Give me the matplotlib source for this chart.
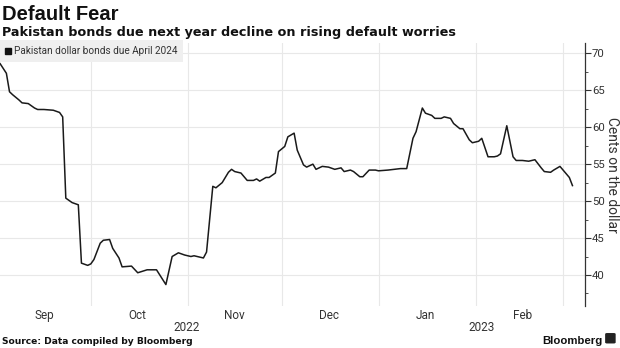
import matplotlib
matplotlib.use("Agg")
import matplotlib.pyplot as plt
import matplotlib.dates as mdates
import matplotlib.transforms as mtransforms
from matplotlib.lines import Line2D
from matplotlib.patches import FancyBboxPatch
import pandas as pd

# Pakistan USD bond due April 2024, price in cents on the dollar
dates = [
    "2022-09-02", "2022-09-04", "2022-09-05", "2022-09-06", "2022-09-08", "2022-09-09",
    "2022-09-11", "2022-09-13", "2022-09-14", "2022-09-16", "2022-09-19", "2022-09-21",
    "2022-09-22", "2022-09-23", "2022-09-25", "2022-09-27", "2022-09-28", "2022-09-30",
    "2022-10-01", "2022-10-02", "2022-10-04", "2022-10-05", "2022-10-07", "2022-10-08",
    "2022-10-10", "2022-10-11", "2022-10-14", "2022-10-16", "2022-10-19", "2022-10-22",
    "2022-10-25", "2022-10-27", "2022-10-29", "2022-10-31", "2022-11-02", "2022-11-03",
    "2022-11-06", "2022-11-07", "2022-11-09", "2022-11-10", "2022-11-12", "2022-11-14",
    "2022-11-15", "2022-11-16", "2022-11-18", "2022-11-20", "2022-11-22", "2022-11-23",
    "2022-11-24", "2022-11-26", "2022-11-27", "2022-11-29", "2022-11-30", "2022-12-02",
    "2022-12-03", "2022-12-05", "2022-12-06", "2022-12-08", "2022-12-09", "2022-12-11",
    "2022-12-12", "2022-12-14", "2022-12-16", "2022-12-18", "2022-12-20", "2022-12-21",
    "2022-12-23", "2022-12-24", "2022-12-26", "2022-12-27", "2022-12-29", "2022-12-31",
    "2023-01-01", "2023-01-04", "2023-01-06", "2023-01-08", "2023-01-10", "2023-01-12",
    "2023-01-13", "2023-01-15", "2023-01-16", "2023-01-18", "2023-01-19", "2023-01-21",
    "2023-01-22", "2023-01-24", "2023-01-25", "2023-01-27", "2023-01-28", "2023-01-30",
    "2023-01-31", "2023-02-02", "2023-02-03", "2023-02-05", "2023-02-07", "2023-02-08",
    "2023-02-09", "2023-02-11", "2023-02-13", "2023-02-14", "2023-02-16", "2023-02-18",
    "2023-02-20", "2023-02-22", "2023-02-23", "2023-02-25", "2023-02-26", "2023-02-28",
    "2023-03-01", "2023-03-03", "2023-03-04",
]
prices = [
    68.6, 67.3, 64.8, 64.4, 63.7, 63.3,
    63.2, 62.6, 62.4, 62.4, 62.3, 62.0,
    61.4, 50.4, 49.8, 49.5, 41.6, 41.3,
    41.5, 42.1, 44.3, 44.7, 44.8, 43.6,
    42.3, 41.1, 41.2, 40.3, 40.7, 40.7,
    38.7, 42.5, 43.0, 42.7, 42.5, 42.6,
    42.3, 43.1, 52.0, 51.8, 52.5, 53.9,
    54.3, 54.0, 53.8, 52.8, 52.8, 53.0,
    52.7, 53.2, 53.2, 53.8, 56.7, 57.4,
    58.7, 59.2, 56.9, 54.9, 54.6, 55.0,
    54.3, 54.7, 54.6, 54.3, 54.5, 54.0,
    54.2, 54.0, 53.3, 53.3, 54.2, 54.2,
    54.1, 54.2, 54.3, 54.4, 54.4, 58.5,
    59.4, 62.6, 61.9, 61.6, 61.2, 61.2,
    61.4, 61.2, 60.5, 59.8, 59.8, 58.3,
    57.9, 58.1, 58.5, 56.0, 56.0, 56.1,
    56.4, 60.2, 56.0, 55.5, 55.5, 55.4,
    55.6, 54.5, 54.0, 53.9, 54.2, 54.7,
    54.2, 53.2, 52.1,
]
series_name = "Pakistan dollar bonds due April 2024"
y_ticks = [40, 45, 50, 55, 60, 65, 70]
years = [("2022", "2022-09-01", "2022-12-31"), ("2023", "2023-01-01", "2023-03-08")]

title = "Default Fear"
subtitle = "Pakistan bonds due next year decline on rising default worries"
source = "Source: Data compiled by Bloomberg"

TXT = "#333333"
GRID = "#e8e8e8"
narrow = ["Liberation Sans Narrow", "Roboto", "DejaVu Sans"]
bold = ["Liberation Sans", "DejaVu Sans"]
wide = ["DejaVu Sans"]

x = pd.to_datetime(dates)

fig = plt.figure(figsize=(6.2, 3.48), dpi=100)
ax = fig.add_axes([0.0, 0.1207, 0.9435, 0.7557])

ax.plot(x, prices, color="#1a1a1a", lw=1.1, solid_joinstyle="round")

ax.set_xlim(pd.Timestamp("2022-09-01 23:00"), pd.Timestamp("2023-03-08"))
ax.set_ylim(35.8, 71.4)

# right-hand value axis
ax.yaxis.tick_right()
ax.yaxis.set_label_position("right")
ax.set_yticks(y_ticks)
ax.set_yticks([v + 2.5 for v in y_ticks[:-1]] + [37.5], minor=True)
ax.tick_params(axis="y", which="major", direction="out", length=4, width=0.8,
               colors=TXT, labelsize=8.2, pad=1)
ax.tick_params(axis="y", which="minor", direction="out", length=2.5, width=0.6,
               colors=TXT)
for lab in ax.get_yticklabels():
    lab.set_fontfamily(narrow)
ax.set_ylabel("Cents on the dollar", rotation=-90, fontsize=10,
              color=TXT, family=narrow, ha="center", va="center")
ax.yaxis.set_label_coords(1.047, 0.5)

# months: gridlines at month starts, names centred mid-month
ax.xaxis.set_major_locator(mdates.MonthLocator())
ax.xaxis.set_major_formatter(plt.NullFormatter())
ax.xaxis.set_minor_locator(mdates.MonthLocator(bymonthday=16))
ax.xaxis.set_minor_formatter(mdates.DateFormatter("%b"))
ax.tick_params(axis="x", which="both", length=0, colors=TXT, labelsize=8.5, pad=2)
for lab in ax.get_xticklabels(minor=True):
    lab.set_fontfamily(narrow)

ax.grid(True, which="major", axis="both", color=GRID, lw=0.8)
ax.set_axisbelow(True)
for side in ("left", "top", "bottom"):
    ax.spines[side].set_visible(False)
ax.spines["right"].set_color(TXT)
ax.spines["right"].set_linewidth(0.9)

# year labels below the month names
trans = mtransforms.blended_transform_factory(ax.transData, ax.transAxes)
for yr, start, end in years:
    mid = pd.Timestamp(start) + (pd.Timestamp(end) - pd.Timestamp(start)) / 2
    ax.text(mid, -0.058, yr, transform=trans, ha="center", va="top",
            fontsize=8.5, color=TXT, family=narrow)

# legend
handle = Line2D([], [], ls="none", marker="s", ms=5, color="#111111")
leg = ax.legend([handle], [series_name], loc="upper left", bbox_to_anchor=(-0.002, 1.01),
                frameon=True, fancybox=False, borderpad=0.6, handlelength=0.6,
                handletextpad=0.3, borderaxespad=0,
                prop={"family": narrow, "size": 7.2})
leg.get_frame().set_facecolor("#efefef")
leg.get_frame().set_edgecolor("none")
leg.get_frame().set_alpha(1)
for t in leg.get_texts():
    t.set_color(TXT)

# headings
fig.text(0.003, 0.985, title, ha="left", va="top", fontsize=14.5, fontweight="bold",
         color="#111111", family=bold)
fig.text(0.003, 0.925, subtitle, ha="left", va="top", fontsize=9.2, fontweight="bold",
         color="#111111", family=wide)
fig.text(0.003, 0.012, source, ha="left", va="baseline", fontsize=6.6, fontweight="bold",
         color="#111111", family=wide)
fig.text(0.971, 0.012, "Bloomberg", ha="right", va="baseline", fontsize=8.2,
         fontweight="bold", color="#111111", family=bold)
fig.patches.append(FancyBboxPatch((0.977, 0.014), 0.015, 0.028, transform=fig.transFigure,
                                  boxstyle="round,pad=0.001,rounding_size=0.003",
                                  facecolor="#222222", edgecolor="none"))

fig.savefig("out.png", dpi=100)
